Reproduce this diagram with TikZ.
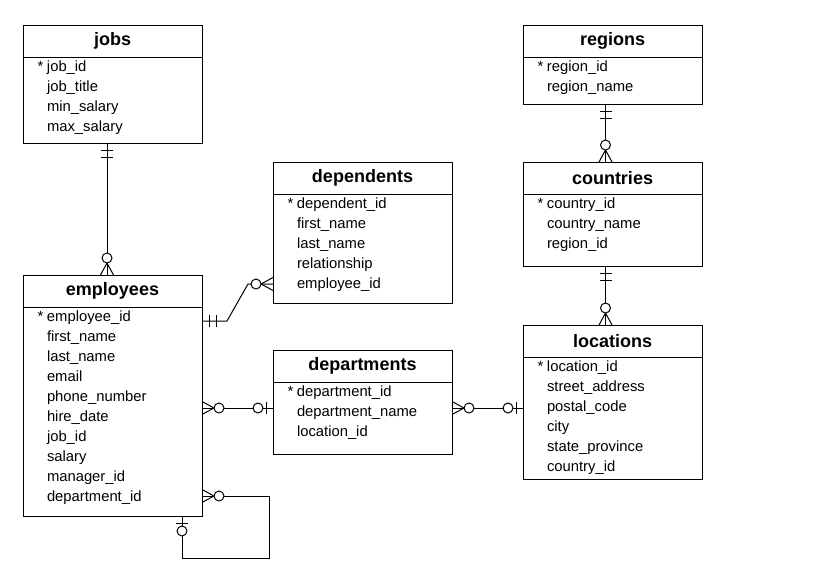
\documentclass[tikz,border=0pt]{standalone}
\usepackage{fontspec}
\setmainfont{Liberation Sans}
\usetikzlibrary{positioning}
\tikzset{
    node distance=0pt, % Header and field box touch
    tabhead/.style={ % Table name box
        draw,
        anchor=north west,
        minimum width=179pt,
        minimum height=32pt,
        inner sep=0pt, outer sep=0pt,
        font=\bfseries\fontsize{18}{20}\selectfont
    },
    tabbody/.style={ % Box with the columns
        draw,
        minimum width=179pt,
        inner xsep=24pt, inner ysep=0pt, outer sep=0pt,
        font=\fontsize{14.8}{20}\selectfont
    },
    % crow's foot ends, x axis points away from the table
    pics/onlyone/.style={code={
        \draw (7,-6) -- (7,6) (14,-6) -- (14,6);
    }},
    pics/zeroone/.style={code={
        \draw (7,-6) -- (7,6);
        \draw[fill=white] (15,0) circle (5pt);
    }},
    pics/crowzero/.style={code={
        \draw (0,-6.5) -- (12,0) -- (0,6.5);
        \draw[fill=white] (17,0) circle (5pt);
    }}
}
\newcommand{\fields}[2]{\parbox[t][#1][t]{131pt}{\strut #2}}
\newcommand{\pk}{\llap{*\hspace{3.5pt}}}

\begin{document}
\begin{tikzpicture}[x=1pt, y=-1pt, line width=1pt]
    \useasboundingbox (0,0) rectangle (813,581);

    % tables
    \node[tabhead] (jobs) at (23,25) {jobs};
    \node[tabbody, below=of jobs] (jobsb) {\fields{86pt}{\pk job\_id\\ job\_title\\ min\_salary\\ max\_salary}};

    \node[tabhead] (regions) at (523,25) {regions};
    \node[tabbody, below=of regions] (regionsb) {\fields{47pt}{\pk region\_id\\ region\_name}};

    \node[tabhead] (dependents) at (273,162) {dependents};
    \node[tabbody, below=of dependents] (depb) {\fields{109pt}{\pk dependent\_id\\ first\_name\\ last\_name\\ relationship\\ employee\_id}};

    \node[tabhead] (countries) at (523,162) {countries};
    \node[tabbody, below=of countries] (countriesb) {\fields{72pt}{\pk country\_id\\ country\_name\\ region\_id}};

    \node[tabhead] (employees) at (23,275) {employees};
    \node[tabbody, below=of employees] (empb) {\fields{209pt}{\pk employee\_id\\ first\_name\\ last\_name\\ email\\ phone\_number\\ hire\_date\\ job\_id\\ salary\\ manager\_id\\ department\_id}};

    \node[tabhead] (departments) at (273,350) {departments};
    \node[tabbody, below=of departments] (deptb) {\fields{72pt}{\pk department\_id\\ department\_name\\ location\_id}};

    \node[tabhead] (locations) at (523,325) {locations};
    \node[tabbody, below=of locations] (locb) {\fields{122pt}{\pk location\_id\\ street\_address\\ postal\_code\\ city\\ state\_province\\ country\_id}};

    % relationships
    \draw ([xshift=-5.5pt]jobsb.south) -- ([xshift=-5.5pt]employees.north);
    \pic[rotate=-90] at ([xshift=-5.5pt]jobsb.south) {onlyone};
    \pic[rotate=90] at ([xshift=-5.5pt]employees.north) {crowzero};

    \draw ([xshift=-7pt]regionsb.south) -- ([xshift=-7pt]countries.north);
    \pic[rotate=-90] at ([xshift=-7pt]regionsb.south) {onlyone};
    \pic[rotate=90] at ([xshift=-7pt]countries.north) {crowzero};

    \draw ([xshift=-7pt]countriesb.south) -- ([xshift=-7pt]locations.north);
    \pic[rotate=-90] at ([xshift=-7pt]countriesb.south) {onlyone};
    \pic[rotate=90] at ([xshift=-7pt]locations.north) {crowzero};

    \draw ([yshift=-14pt]empb.north east) -- ++(25,0)
        -- ([xshift=-25pt,yshift=19pt]depb.south west) -- ([yshift=19pt]depb.south west);
    \pic at ([yshift=-14pt]empb.north east) {onlyone};
    \pic[rotate=180] at ([yshift=19pt]depb.south west) {crowzero};

    \coordinate (ed) at ([yshift=10pt]deptb.west);
    \draw (ed -| empb.east) -- (ed);
    \pic at (ed -| empb.east) {crowzero};
    \pic[rotate=180] at (ed) {zeroone};

    \coordinate (dl) at ([yshift=10pt]locb.west);
    \draw (dl -| deptb.east) -- (dl);
    \pic at (dl -| deptb.east) {crowzero};
    \pic[rotate=180] at (dl) {zeroone};

    \draw ([yshift=20pt]empb.south east) -- ++(67,0)
        |- ([xshift=69.5pt,yshift=-42pt]empb.south) -- ([xshift=69.5pt]empb.south);
    \pic at ([yshift=20pt]empb.south east) {crowzero};
    \pic[rotate=-90] at ([xshift=69.5pt]empb.south) {zeroone};
\end{tikzpicture}
\end{document}
